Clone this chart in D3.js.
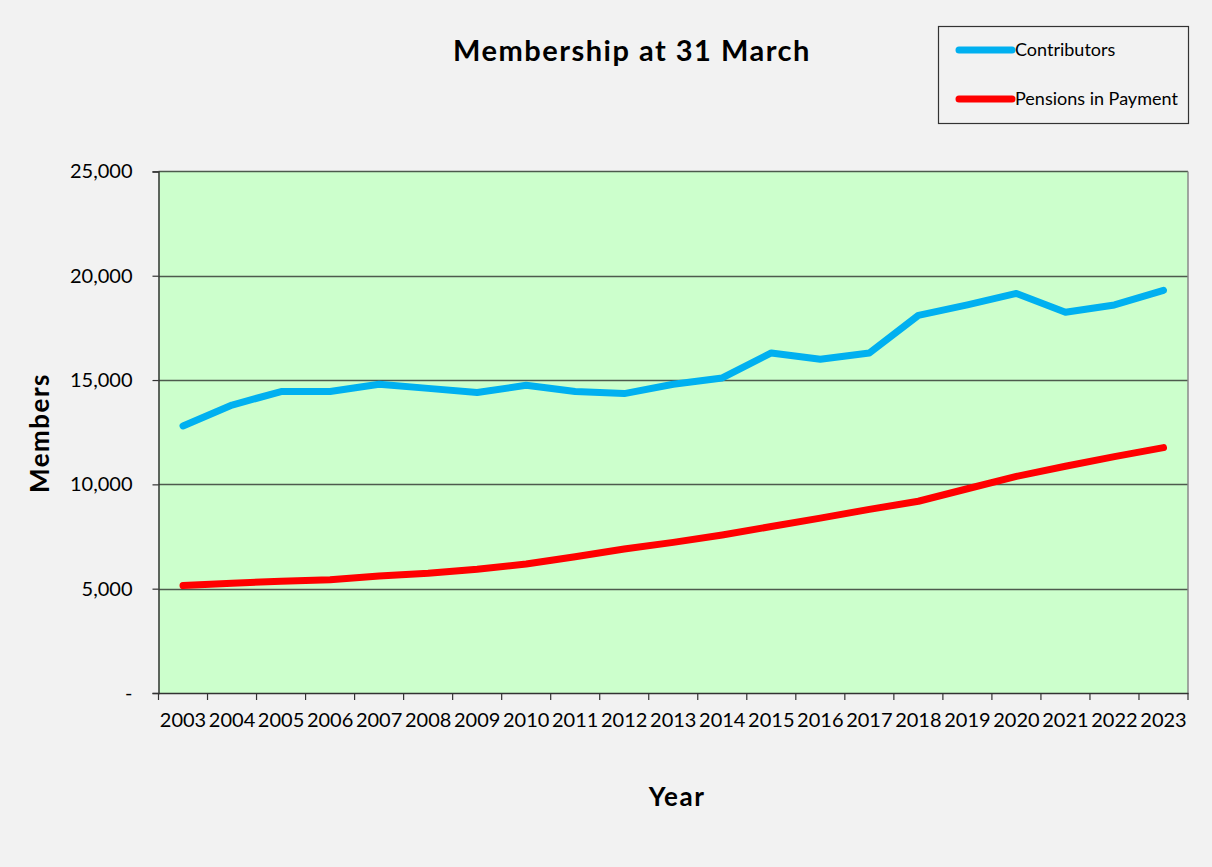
<!DOCTYPE html>
<html>
<head>
<meta charset="utf-8">
<script src="https://cdn.jsdelivr.net/npm/d3@7"></script>
<style>
  html, body { margin: 0; padding: 0; background: #f2f2f2; }
  svg { display: block; }
  text { font-family: Lato, "Open Sans", sans-serif; fill: #000; }
</style>
</head>
<body>
<svg id="chart" width="1212" height="867"></svg>
<script>
const years = ["2003","2004","2005","2006","2007","2008","2009","2010","2011","2012","2013","2014","2015","2016","2017","2018","2019","2020","2021","2022","2023"];
const contributors = [12800,13800,14450,14450,14800,14600,14400,14750,14450,14350,14800,15100,16300,16000,16300,18100,18600,19150,18250,18600,19300];
const pensions = [5150,5260,5360,5430,5610,5740,5930,6180,6530,6900,7220,7575,7980,8380,8800,9190,9790,10380,10870,11330,11760];
const yTicks = [0,5000,10000,15000,20000,25000];
const seriesNames = ["Contributors","Pensions in Payment"];
const seriesColors = ["#00b0f0","#ff0000"];

const svg = d3.select("#chart");
const W = 1212, H = 867;
svg.append("rect").attr("width", W).attr("height", H).attr("fill", "#f2f2f2");

const m = {left: 158.5, right: 1188, top: 171.4, bottom: 693};
const x = d3.scaleBand().domain(years).range([m.left, m.right]).paddingInner(0).paddingOuter(0);
const y = d3.scaleLinear().domain([0, 25000]).range([m.bottom, m.top]);

// plot area
svg.append("rect")
  .attr("x", m.left).attr("y", m.top)
  .attr("width", m.right - m.left).attr("height", m.bottom - m.top)
  .attr("fill", "#ccffcc");

// gridlines
svg.append("g").selectAll("line").data(yTicks.filter(d => d > 0)).join("line")
  .attr("x1", m.left).attr("x2", m.right)
  .attr("y1", d => Math.round(y(d)) + 0.5).attr("y2", d => Math.round(y(d)) + 0.5)
  .attr("stroke", "#4d5a4d").attr("stroke-width", 1.4);

// right border
svg.append("line").attr("x1", m.right).attr("x2", m.right).attr("y1", m.top).attr("y2", m.bottom)
  .attr("stroke", "#8a8a8a").attr("stroke-width", 1.5);

// y axis
const yAxis = d3.axisLeft(y).tickValues(yTicks).tickSize(6).tickPadding(20)
  .tickFormat(d => d === 0 ? "-" : d3.format(",")(d));
const gy = svg.append("g").attr("transform", `translate(${m.left},0)`).call(yAxis);
gy.select(".domain").attr("stroke", "#333").attr("stroke-width", 1.5);
gy.selectAll(".tick line").attr("stroke", "#333").attr("stroke-width", 1.2);
gy.selectAll(".tick text").attr("font-size", 20).attr("fill", "#000");

// x axis: labels centered in bands, ticks at band boundaries
const xAxis = d3.axisBottom(x).tickSize(0).tickPadding(20);
const gx = svg.append("g").attr("transform", `translate(0,${m.bottom})`).call(xAxis);
gx.select(".domain").attr("stroke", "#333").attr("stroke-width", 1.5);
gx.selectAll(".tick text").attr("font-size", 20).attr("fill", "#000");
const bounds = years.map(d => x(d)).concat([x(years[years.length - 1]) + x.bandwidth()]);
svg.append("g").selectAll("line").data(bounds).join("line")
  .attr("x1", d => d).attr("x2", d => d)
  .attr("y1", m.bottom).attr("y2", m.bottom + 7)
  .attr("stroke", "#333").attr("stroke-width", 1.2);

// lines
const line = d3.line().x((d, i) => x(years[i]) + x.bandwidth() / 2).y(d => y(d));
[contributors, pensions].forEach((s, i) => {
  svg.append("path").datum(s)
    .attr("d", line)
    .attr("fill", "none")
    .attr("stroke", seriesColors[i])
    .attr("stroke-width", 7)
    .attr("stroke-linecap", "round")
    .attr("stroke-linejoin", "round");
});

// title
svg.append("text").attr("x", 632).attr("y", 61).attr("text-anchor", "middle")
  .attr("font-size", 29).attr("font-weight", "bold").attr("letter-spacing", 1.5)
  .text("Membership at 31 March");

// axis titles
svg.append("text").attr("x", 677).attr("y", 806).attr("text-anchor", "middle")
  .attr("font-size", 26).attr("font-weight", "bold").attr("letter-spacing", 1.5).text("Year");
svg.append("text").attr("transform", "translate(49,433) rotate(-90)").attr("text-anchor", "middle")
  .attr("font-size", 26).attr("font-weight", "bold").attr("letter-spacing", 1.5).text("Members");

// legend
const lg = svg.append("g");
lg.append("rect").attr("x", 938.5).attr("y", 26.5).attr("width", 250).attr("height", 97)
  .attr("fill", "#f2f2f2").attr("stroke", "#333").attr("stroke-width", 1.2);
seriesNames.forEach((n, i) => {
  const yy = 50 + i * 49;
  lg.append("line").attr("x1", 959).attr("x2", 1012).attr("y1", yy).attr("y2", yy)
    .attr("stroke", seriesColors[i]).attr("stroke-width", 7).attr("stroke-linecap", "round");
  lg.append("text").attr("x", 1015).attr("y", yy + 6).attr("font-size", 18).text(n);
});
</script>
</body>
</html>
